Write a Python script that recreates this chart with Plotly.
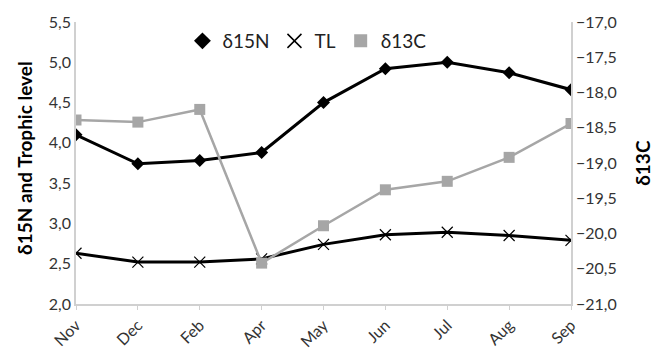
import plotly.graph_objects as go

months = ["Nov", "Dec", "Feb", "Apr", "May", "Jun", "Jul", "Aug", "Sep"]
d15n = [4.10, 3.74, 3.78, 3.88, 4.50, 4.92, 5.00, 4.87, 4.66]
tl = [2.63, 2.52, 2.52, 2.56, 2.74, 2.86, 2.89, 2.85, 2.79]
d13c = [-18.39, -18.42, -18.24, -20.42, -19.89, -19.38, -19.26, -18.92, -18.44]

left_ticks = [2.0, 2.5, 3.0, 3.5, 4.0, 4.5, 5.0, 5.5]
right_ticks = [-21.0, -20.5, -20.0, -19.5, -19.0, -18.5, -18.0, -17.5, -17.0]

x = list(range(len(months)))
font = "Lato, Open Sans, sans-serif"

fig = go.Figure()
fig.add_trace(go.Scatter(x=x, y=d15n, name="δ15N", mode="lines+markers", showlegend=False,
                         line=dict(color="black", width=3),
                         marker=dict(symbol="diamond", size=10, color="black")))
fig.add_trace(go.Scatter(x=x, y=tl, name="TL", mode="lines+markers", showlegend=False,
                         line=dict(color="black", width=3),
                         marker=dict(symbol="x-thin-open", size=11, color="black",
                                     line=dict(color="black", width=1.2))))
fig.add_trace(go.Scatter(x=x, y=d13c, name="δ13C", mode="lines+markers", yaxis="y2",
                         showlegend=False,
                         line=dict(color="#a6a6a6", width=2.5),
                         marker=dict(symbol="square", size=11, color="#a6a6a6")))

# legend entries (markers only, as in the reference)
fig.add_trace(go.Scatter(x=[None], y=[None], name="δ15N", mode="markers",
                         marker=dict(symbol="diamond", size=13, color="black")))
fig.add_trace(go.Scatter(x=[None], y=[None], name="TL", mode="markers",
                         marker=dict(symbol="x-thin-open", size=14, color="black",
                                     line=dict(color="black", width=1.5))))
fig.add_trace(go.Scatter(x=[None], y=[None], name="δ13C", mode="markers",
                         marker=dict(symbol="square", size=13, color="#a6a6a6")))

title_font = dict(size=19, color="black", family=font, weight="bold")

fig.update_layout(
    width=654, height=362,
    margin=dict(l=76, r=83, t=18, b=31),
    paper_bgcolor="white", plot_bgcolor="white",
    font=dict(family=font, size=16, color="#333333"),
    separators=",.",
    showlegend=True,
    legend=dict(orientation="h", x=0.215, y=1.0, xanchor="left", yanchor="top",
                font=dict(size=19, color="#222222"), bgcolor="rgba(0,0,0,0)",
                itemwidth=30, tracegroupgap=0),
    xaxis=dict(range=[0, 8], tickmode="array", tickvals=x, ticktext=months,
               tickangle=-45, showgrid=False, zeroline=False,
               showline=True, linecolor="#d0d0d0", linewidth=1.5,
               ticks="outside", ticklen=4, tickcolor="#d0d0d0",
               tickfont=dict(size=16, color="#333333")),
    yaxis=dict(range=[2.0, 5.5], tickmode="array", tickvals=left_ticks,
               tickformat=".1f", showgrid=False, zeroline=False,
               showline=True, linecolor="#d0d0d0", linewidth=1.5,
               ticks="", tickfont=dict(size=16, color="#333333")),
    yaxis2=dict(range=[-21.0, -17.0], tickmode="array", tickvals=right_ticks,
                tickformat=".1f", overlaying="y", side="right",
                showgrid=False, zeroline=False,
                showline=True, linecolor="#d0d0d0", linewidth=1.5,
                ticks="", tickfont=dict(size=16, color="#333333")),
    annotations=[
        dict(text="δ15N and Trophic level", xref="paper", yref="paper",
             x=-0.103, y=0.518, textangle=-90, showarrow=False,
             xanchor="center", yanchor="middle", font=title_font),
        dict(text="δ13C", xref="paper", yref="paper",
             x=1.143, y=0.5, textangle=-90, showarrow=False,
             xanchor="center", yanchor="middle", font=title_font),
    ],
)

fig.write_html("out.html", config={"displayModeBar": False},
               post_script="document.body.style.margin='0';document.body.style.overflow='hidden';")
